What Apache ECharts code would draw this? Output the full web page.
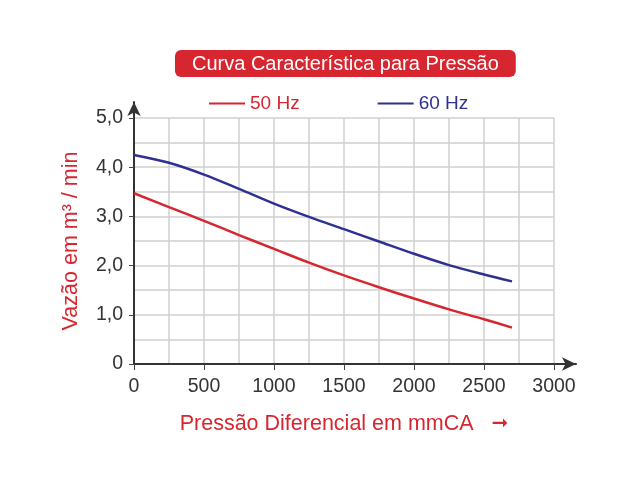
<!DOCTYPE html>
<html>
<head>
<meta charset="utf-8">
<script src="https://cdn.jsdelivr.net/npm/echarts@6/dist/echarts.min.js"></script>
<style>
  html, body { margin: 0; padding: 0; background: #fff; }
  #chart { width: 640px; height: 480px; }
</style>
</head>
<body>
<div id="chart"></div>
<script>
// pressure (mmCA) and flow (m3/min)
const pressure = [0, 250, 500, 750, 1000, 1250, 1500, 1750, 2000, 2250, 2500, 2700]
const flow50 = [3.47, 3.19, 2.91, 2.62, 2.34, 2.06, 1.80, 1.56, 1.33, 1.11, 0.91, 0.74]
const flow60 = [4.25, 4.09, 3.85, 3.56, 3.26, 2.99, 2.74, 2.49, 2.24, 2.01, 1.82, 1.68]
const seriesNames = ['50 Hz', '60 Hz']

const red = '#d7262f'
const blue = '#2e3192'
const font = 'Liberation Sans, Arial, sans-serif'

const myChart = echarts.init(document.getElementById('chart'))

const toPairs = (ys) => pressure.map((x, i) => [x, ys[i]])

let option = {
    backgroundColor: '#FFFFFF',
    animation: false,
    title: {
        text: 'Curva Característica para Pressão',
        left: 175,
        top: 50,
        padding: [4, 17, 3, 17],
        backgroundColor: red,
        borderRadius: 6,
        textStyle: {
            color: '#fff',
            fontFamily: font,
            fontSize: 20,
            fontWeight: 'normal'
        }
    },
    legend: {
        data: [
            { name: seriesNames[0], icon: 'rect', textStyle: { color: red } },
            { name: seriesNames[1], icon: 'rect', textStyle: { color: blue } }
        ],
        left: 204,
        top: 89,
        itemWidth: 36,
        itemHeight: 2,
        itemGap: 78,
        textStyle: {
            fontFamily: font,
            fontSize: 19
        }
    },
    grid: [
        { left: 134, right: 86, top: 118, bottom: 116 },
        // wider grid only used to draw the arrowed axis lines
        { left: 134, right: 64, top: 102, bottom: 116 }
    ],
    xAxis: [
        {
            gridIndex: 0,
            type: 'value',
            min: 0,
            max: 3000,
            interval: 500,
            name: 'Pressão Diferencial em mmCA   {arr|➞}',
            nameLocation: 'middle',
            nameGap: 49,
            nameTextStyle: {
                color: red,
                fontFamily: font,
                fontSize: 21.5,
                rich: {
                    arr: { color: red, fontSize: 20, fontFamily: 'DejaVu Sans' }
                }
            },
            axisLine: { show: false },
            axisTick: { show: true, length: 6, lineStyle: { color: '#444', width: 1 } },
            axisLabel: {
                color: '#333',
                fontFamily: font,
                fontSize: 19.5,
                margin: 13,
                formatter: v => String(v)
            },
            splitLine: { lineStyle: { color: '#d0d0d0', width: 1.5 } },
            minorTick: { show: false, splitNumber: 2 },
            minorSplitLine: { show: true, lineStyle: { color: '#d0d0d0', width: 1.5 } }
        },
        {
            gridIndex: 1,
            type: 'value',
            min: 0,
            max: 1,
            axisLine: {
                show: true,
                symbol: ['none', 'arrow'],
                symbolSize: [10, 14],
                lineStyle: { color: '#333', width: 2 }
            },
            axisTick: { show: false },
            axisLabel: { show: false },
            splitLine: { show: false }
        }
    ],
    yAxis: [
        {
            gridIndex: 0,
            type: 'value',
            min: 0,
            max: 5,
            interval: 1,
            name: 'Vazão em m³ / min',
            nameLocation: 'middle',
            nameGap: 52,
            nameTextStyle: {
                color: red,
                fontFamily: font,
                fontSize: 21.5
            },
            axisLine: { show: false },
            axisTick: { show: true, length: 5, lineStyle: { color: '#444', width: 1 } },
            axisLabel: {
                color: '#333',
                fontFamily: font,
                fontSize: 19.5,
                margin: 11,
                formatter: v => v === 0 ? '0' : v.toFixed(1).replace('.', ',')
            },
            splitLine: { lineStyle: { color: '#d0d0d0', width: 1.5 } },
            minorTick: { show: false, splitNumber: 2 },
            minorSplitLine: { show: true, lineStyle: { color: '#d0d0d0', width: 1.5 } }
        },
        {
            gridIndex: 1,
            type: 'value',
            min: 0,
            max: 1,
            axisLine: {
                show: true,
                symbol: ['none', 'arrow'],
                symbolSize: [10, 14],
                lineStyle: { color: '#333', width: 2 }
            },
            axisTick: { show: false },
            axisLabel: { show: false },
            splitLine: { show: false }
        }
    ],
    series: [
        {
            name: seriesNames[0],
            type: 'line',
            xAxisIndex: 0,
            yAxisIndex: 0,
            data: toPairs(flow50),
            smooth: 0.3,
            symbol: 'none',
            lineStyle: { color: red, width: 2.5 },
            itemStyle: { color: red }
        },
        {
            name: seriesNames[1],
            type: 'line',
            xAxisIndex: 0,
            yAxisIndex: 0,
            data: toPairs(flow60),
            smooth: 0.3,
            symbol: 'none',
            lineStyle: { color: blue, width: 2.5 },
            itemStyle: { color: blue }
        }
    ]
}
myChart.setOption(option)
</script>
</body>
</html>
